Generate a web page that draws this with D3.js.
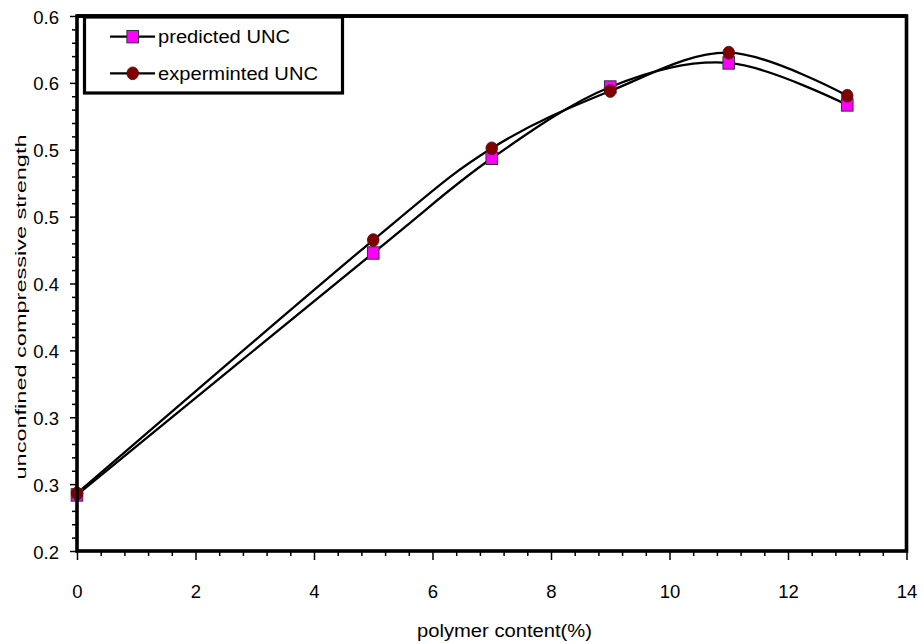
<!DOCTYPE html>
<html>
<head>
<meta charset="utf-8">
<script src="https://cdn.jsdelivr.net/npm/d3@7"></script>
<style>
  html, body { margin: 0; padding: 0; background: #fff; }
  svg { display: block; }
  text { font-family: "Liberation Sans", Arial, sans-serif; fill: #000; }
</style>
</head>
<body>
<svg id="chart" width="923" height="644"></svg>
<script>
// ---- data ----
const polymerContent = [0, 5, 7, 9, 11, 13];
const predictedUNC   = [0.2419, 0.4228, 0.4936, 0.5469, 0.5649, 0.5335];
const experimentUNC  = [0.2431, 0.4325, 0.5011, 0.5439, 0.5726, 0.5404];
const xTickValues = [0, 2, 4, 6, 8, 10, 12, 14];
const yTickValues = [0.2, 0.25, 0.3, 0.35, 0.4, 0.45, 0.5, 0.55, 0.6];
const yTickLabels = ["0.2", "0.3", "0.3", "0.4", "0.4", "0.5", "0.5", "0.6", "0.6"];
const seriesNames = ["predicted UNC", "experminted UNC"];

// ---- layout ----
const svg = d3.select("#chart");
const x = d3.scaleLinear().domain([0, 14]).range([77, 906.5]);
const y = d3.scaleLinear().domain([0.2, 0.6]).range([551, 16]);

// minor ticks
const xMinor = d3.range(0, 14.0001, 0.4).map(v => +v.toFixed(2)).filter(v => xTickValues.indexOf(v) < 0);
const yMinor = d3.range(0.2, 0.6001, 0.01).map(v => +v.toFixed(3)).filter(v => !yTickValues.some(t => Math.abs(t - v) < 1e-6));

// x axis
const gx = svg.append("g").attr("transform", `translate(0,${y(0.2)})`)
  .call(d3.axisBottom(x).tickValues(xTickValues).tickSize(9).tickFormat(d3.format("d")));
gx.select(".domain").remove();
gx.selectAll("line").attr("stroke", "#000").attr("stroke-width", 1.5);
gx.selectAll("text").attr("y", 47).attr("dy", 0).style("font-size", "18.5px").attr("fill", "#000");

const gxm = svg.append("g").attr("transform", `translate(0,${y(0.2)})`)
  .call(d3.axisBottom(x).tickValues(xMinor).tickSize(5).tickFormat(""));
gxm.select(".domain").remove();
gxm.selectAll("line").attr("stroke", "#000").attr("stroke-width", 1.5);

// y axis
const gy = svg.append("g").attr("transform", `translate(${x(0)},0)`)
  .call(d3.axisLeft(y).tickValues(yTickValues).tickSize(7).tickFormat((d, i) => yTickLabels[i]));
gy.select(".domain").remove();
gy.selectAll("line").attr("stroke", "#000").attr("stroke-width", 1.5);
gy.selectAll("text").attr("x", -18).attr("dy", "0.38em").style("font-size", "18.5px").attr("fill", "#000");

const gym = svg.append("g").attr("transform", `translate(${x(0)},0)`)
  .call(d3.axisLeft(y).tickValues(yMinor).tickSize(5).tickFormat(""));
gym.select(".domain").remove();
gym.selectAll("line").attr("stroke", "#000").attr("stroke-width", 1.5);

// lines
const curve = d3.curveCardinal.tension(0);
const lineGen = d3.line().x(d => x(d[0])).y(d => y(d[1])).curve(curve);
const predPts = polymerContent.map((v, i) => [v, predictedUNC[i]]);
const expPts = polymerContent.map((v, i) => [v, experimentUNC[i]]);

svg.append("path").attr("d", lineGen(predPts)).attr("fill", "none").attr("stroke", "#000").attr("stroke-width", 2.3);
svg.append("path").attr("d", lineGen(expPts)).attr("fill", "none").attr("stroke", "#000").attr("stroke-width", 2.3);

// markers
function square(g, cx, cy) {
  g.append("rect").attr("x", cx - 5.8).attr("y", cy - 6.2).attr("width", 11.6).attr("height", 12.4)
    .attr("fill", "#ff00ff").attr("stroke", "#333333").attr("stroke-width", 1);
}
function circle(g, cx, cy) {
  g.append("ellipse").attr("cx", cx).attr("cy", cy).attr("rx", 5.8).attr("ry", 6.4)
    .attr("fill", "#800000").attr("stroke", "#4a1010").attr("stroke-width", 0.8);
}
const mk = svg.append("g");
predPts.forEach(p => square(mk, x(p[0]), y(p[1])));
expPts.forEach(p => circle(mk, x(p[0]), y(p[1])));

// frame
svg.append("rect").attr("x", x(0)).attr("y", y(0.6)).attr("width", x(14) - x(0)).attr("height", y(0.2) - y(0.6))
  .attr("fill", "none").attr("stroke", "#000").attr("stroke-width", 3.6);

// legend
const lg = svg.append("g");
lg.append("rect").attr("x", 84.5).attr("y", 17).attr("width", 258).attr("height", 76)
  .attr("fill", "#fff").attr("stroke", "#000").attr("stroke-width", 3.2);
const legY = [36.7, 73.3];
const legLen = [132, 160];
seriesNames.forEach((name, i) => {
  lg.append("line").attr("x1", 110).attr("x2", 155).attr("y1", legY[i]).attr("y2", legY[i])
    .attr("stroke", "#000").attr("stroke-width", 2.3);
  if (i === 0) square(lg, 132.7, legY[i]); else circle(lg, 132.7, legY[i]);
  lg.append("text").attr("x", 158).attr("y", legY[i] + 6.5).style("font-size", "18px")
    .attr("textLength", legLen[i]).attr("lengthAdjust", "spacingAndGlyphs").text(name);
});
// redraw top frame line over legend
svg.append("line").attr("x1", x(0)).attr("x2", x(14)).attr("y1", y(0.6)).attr("y2", y(0.6))
  .attr("stroke", "#000").attr("stroke-width", 3.6);

// axis titles
svg.append("text").attr("x", 504.5).attr("y", 637).attr("text-anchor", "middle").style("font-size", "18px")
  .attr("textLength", 175).attr("lengthAdjust", "spacingAndGlyphs").text("polymer content(%)");
svg.append("text").attr("transform", "translate(26,307) rotate(-90)").attr("text-anchor", "middle")
  .style("font-size", "15px").attr("textLength", 345).attr("lengthAdjust", "spacingAndGlyphs")
  .text("unconfined compressive strength");
</script>
</body>
</html>
